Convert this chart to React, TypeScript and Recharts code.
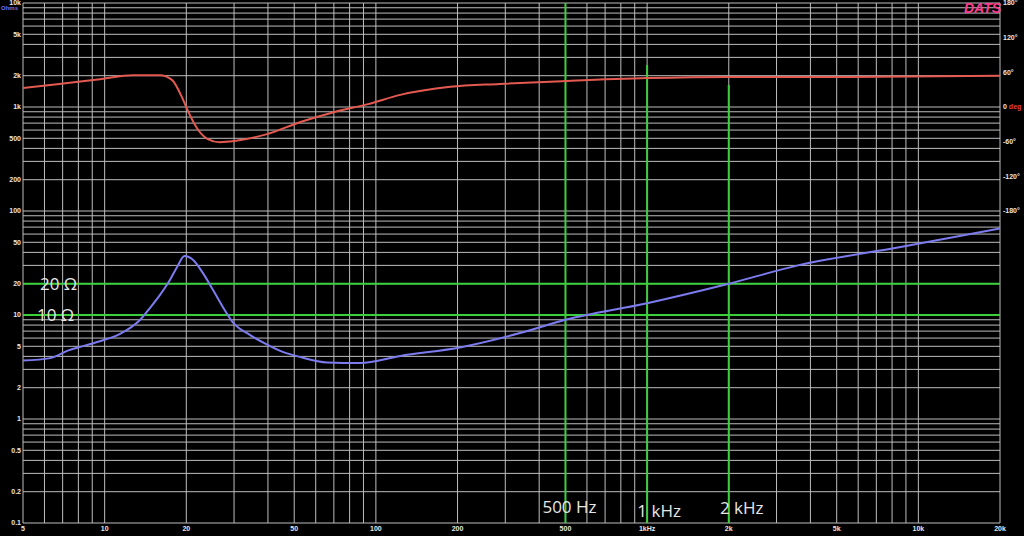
import React from 'react';
import { LineChart, Line, XAxis, YAxis, CartesianGrid, ReferenceLine } from 'recharts';

// Impedance curve (Hz, Ohms)
const impFreq = [5, 6.3, 7.4, 8.5, 9.6, 11.4, 12.5, 13.5, 14.7, 16.0, 17.4, 18.5, 19.7, 21.2, 23.0, 25.1, 27.4, 29.6, 34.4, 39.7, 45.6, 52.7, 66, 87.5, 123, 206, 340, 500, 1000, 2000, 3600, 8600, 20000];
const impOhms = [3.65, 3.85, 4.6, 5.1, 5.6, 6.6, 7.6, 8.96, 11.7, 15.6, 21.7, 29, 36.9, 33.8, 25.4, 17.4, 11.7, 8.6, 6.4, 5.2, 4.4, 3.94, 3.5, 3.45, 4.04, 4.9, 6.7, 9.0, 13, 20, 30, 45, 68];

// Phase curve (Hz, degrees)
const phaseFreq = [5, 6.8, 9.6, 12.7, 16.0, 17.7, 19.4, 20.2, 22.0, 23.9, 26.6, 30.1, 39.7, 52.7, 69.9, 93.6, 123, 188, 286, 500, 1000, 2000, 5600, 20000];
const phaseDeg = [33, 40, 48, 55, 55, 47, 14, -5, -38, -55, -61, -59, -47, -26, -9, 5, 21, 35, 40, 45, 50, 52, 52, 54];

// Grid / tick values
const xGrid = [5, 6, 7, 8, 9, 10, 20, 30, 40, 50, 60, 70, 80, 90, 100, 200, 300, 400, 500, 600, 700, 800, 900, 1000, 2000, 3000, 4000, 5000, 6000, 7000, 8000, 9000, 10000, 20000];
const xLabelVals = [5, 10, 20, 50, 100, 200, 500, 1000, 2000, 5000, 10000, 20000];
const xLabelText = ['5', '10', '20', '50', '100', '200', '500', '1kHz', '2k', '5k', '10k', '20k'];

const yGrid = [0.1, 0.2, 0.3, 0.4, 0.5, 0.6, 0.7, 0.8, 0.9, 1, 2, 3, 4, 5, 6, 7, 8, 9, 10, 20, 30, 40, 50, 60, 70, 80, 90, 100, 200, 300, 400, 500, 600, 700, 800, 900, 1000, 2000, 3000, 4000, 5000, 6000, 7000, 8000, 9000, 10000];
const yLabelVals = [0.1, 0.2, 0.5, 1, 2, 5, 10, 20, 50, 100, 200, 500, 1000, 2000, 5000, 10000];
const yLabelText = ['0.1', '0.2', '0.5', '1', '2', '5', '10', '20', '50', '100', '200', '500', '1k', '2k', '5k', '10k'];

const phaseTicks = [180, 120, 60, 0, -60, -120, -180];
const phaseText = ['180°', '120°', '60°', '0', '-60°', '-120°', '-180°'];

// Marker lines
const markerFreqs = [500, 1000, 2000];
const markerText = ['500 Hz', '1 kHz', '2 kHz'];
const markerTopOhms = [10000, 2535, 1630];
const refOhms = [20, 10];
const refText = ['20 Ω', '10 Ω'];

const impData = impFreq.map((f, i) => ({ f, z: impOhms[i] }));
const phaseData = phaseFreq.map((f, i) => ({ f, p: phaseDeg[i] }));

const tickFont = 'Liberation Sans, Arial, sans-serif';
const GREEN = '#3ccf3c';

const LeftTick = (props: any) => {
  const { x, y, payload } = props;
  const i = yLabelVals.indexOf(payload.value);
  if (i < 0) return <g />;
  return (
    <text x={x} y={y} dy="0.35em" textAnchor="end" fontSize={7} fontWeight="bold" fill="#e8e8e8" fontFamily={tickFont}>
      {yLabelText[i]}
    </text>
  );
};

const BottomTick = (props: any) => {
  const { x, y, payload } = props;
  const i = xLabelVals.indexOf(payload.value);
  if (i < 0) return <g />;
  return (
    <text x={x} y={y} dy="0.71em" textAnchor="middle" fontSize={7} fontWeight="bold" fill="#e8e8e8" fontFamily={tickFont}>
      {xLabelText[i]}
    </text>
  );
};

const RightTick = (props: any) => {
  const { x, y, payload } = props;
  const i = phaseTicks.indexOf(payload.value);
  if (i < 0) return <g />;
  return (
    <text x={x} y={y} dy="0.35em" textAnchor="start" fontSize={7} fontWeight="bold" fill="#e8e8e8" fontFamily={tickFont}>
      {phaseText[i]}
      {payload.value === 0 ? <tspan fill="#e0403a"> deg</tspan> : null}
    </text>
  );
};

const VLabel = (props: any) => {
  const vb = props.viewBox;
  if (!vb) return <g />;
  return (
    <text
      x={vb.x + props.dx}
      y={vb.y + vb.height - props.up}
      textAnchor="middle"
      fontSize={17}
      fill="#e6e6e6"
      fontFamily="'Open Sans', sans-serif"
    >
      {props.text}
    </text>
  );
};

const HLabel = (props: any) => {
  const vb = props.viewBox;
  if (!vb) return <g />;
  return (
    <text
      x={vb.x + props.dx}
      y={vb.y}
      dy="0.36em"
      textAnchor="start"
      fontSize={17}
      fill="#e6e6e6"
      fontFamily="'Open Sans', sans-serif"
    >
      {props.text}
    </text>
  );
};

const vLabelDx = [4, 12, 13];
const vLabelUp = [10, 6, 9];
const hLabelDx = [17, 14];

export default function App() {
  return (
    <div style={{ position: 'fixed', left: 0, top: 0, width: 1024, height: 536, background: '#000', overflow: 'hidden' }}>
      <LineChart width={1024} height={536} margin={{ top: 3, right: 0, bottom: 0, left: 0 }}>
        <CartesianGrid stroke="#bdbdbd" strokeWidth={1} xAxisId="x" yAxisId="z" />
        <XAxis
          xAxisId="x"
          dataKey="f"
          type="number"
          scale="log"
          domain={[5, 20000]}
          ticks={xGrid}
          interval={0}
          allowDataOverflow
          height={13}
          axisLine={false}
          tickLine={false}
          tickSize={0}
          tickMargin={3}
          tick={<BottomTick />}
        />
        <YAxis
          yAxisId="z"
          type="number"
          scale="log"
          domain={[0.1, 10000]}
          ticks={yGrid}
          interval={0}
          allowDataOverflow
          width={23}
          axisLine={false}
          tickLine={false}
          tickSize={0}
          tickMargin={2}
          tick={<LeftTick />}
        />
        <YAxis
          yAxisId="p"
          orientation="right"
          type="number"
          domain={[-720, 180]}
          ticks={phaseTicks}
          interval={0}
          allowDataOverflow
          width={24}
          axisLine={false}
          tickLine={false}
          tickSize={0}
          tickMargin={3}
          tick={<RightTick />}
        />
        {refOhms.map((v, i) => (
          <ReferenceLine
            key={'h' + v}
            xAxisId="x"
            yAxisId="z"
            y={v}
            stroke={GREEN}
            strokeWidth={2}
            label={<HLabel text={refText[i]} dx={hLabelDx[i]} />}
          />
        ))}
        {markerFreqs.map((f, i) => (
          <ReferenceLine
            key={'v' + f}
            xAxisId="x"
            yAxisId="z"
            segment={[{ x: f, y: markerTopOhms[i] }, { x: f, y: 0.1 }]}
            stroke={GREEN}
            strokeWidth={2}
            label={<VLabel text={markerText[i]} dx={vLabelDx[i]} up={vLabelUp[i]} />}
          />
        ))}
        <Line
          data={phaseData}
          xAxisId="x"
          yAxisId="p"
          dataKey="p"
          type="monotone"
          stroke="#e45a50"
          strokeWidth={2}
          dot={false}
          isAnimationActive={false}
        />
        <Line
          data={impData}
          xAxisId="x"
          yAxisId="z"
          dataKey="z"
          type="monotone"
          stroke="#7c7cf0"
          strokeWidth={2}
          dot={false}
          isAnimationActive={false}
        />
      </LineChart>
      <div style={{ position: 'absolute', left: 1, top: 5, fontSize: 6, fontWeight: 'bold', color: '#7070ff', fontFamily: tickFont }}>Ohms</div>
      <div style={{ position: 'absolute', left: 964, top: 0, fontSize: 14, fontWeight: 'bold', fontStyle: 'italic', color: '#ff3d8f', fontFamily: tickFont, lineHeight: '16px' }}>DATS</div>
    </div>
  );
}
